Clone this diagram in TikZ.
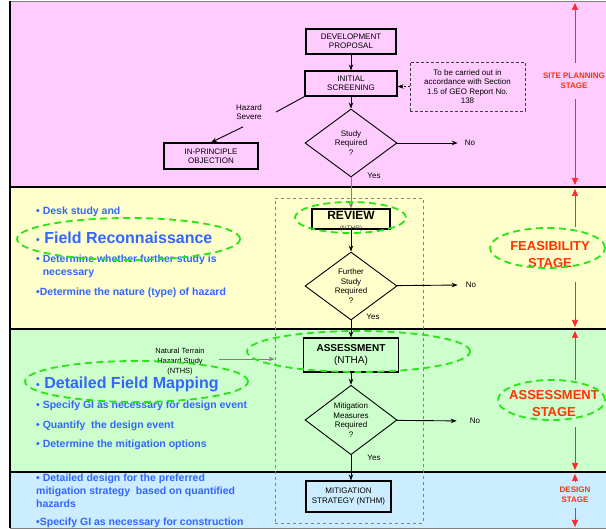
\documentclass[tikz,border=0pt]{standalone}
\usepackage{fontspec}
\setmainfont{Liberation Sans}
\usetikzlibrary{shapes.geometric,arrows.meta}
\definecolor{pinkband}{RGB}{255,204,255}
\definecolor{yellowband}{RGB}{255,255,204}
\definecolor{greenband}{RGB}{204,255,204}
\definecolor{blueband}{RGB}{204,236,255}
\definecolor{pointblue}{RGB}{51,102,255}
\definecolor{stagered}{RGB}{255,51,0}
\definecolor{spanred}{RGB}{255,40,40}
\definecolor{ringgreen}{RGB}{40,230,20}
\newcommand{\fsize}[2]{\fontsize{#1}{#2}\selectfont}

\begin{document}
\begin{tikzpicture}[x=1pt,y=-1pt,
	every node/.style={inner sep=1pt},
	box/.style={draw,line width=1.1pt,align=center,font=\fsize{8}{9.5}},
	query/.style={diamond,draw,line width=0.9pt,minimum width=92,minimum height=68,inner sep=0pt,align=center,font=\fsize{8}{9.5}},
	flow/.style={-{Stealth[length=6pt,width=4.5pt]},line width=0.9pt},
	small/.style={align=center,font=\fsize{8}{9.5}},
	point/.style={anchor=west,align=left,text=pointblue,font=\bfseries\fsize{10.5}{13}},
	bigpoint/.style={point,font=\bfseries\fsize{16}{18}},
	ring/.style={ellipse,draw=ringgreen,line width=1.8pt,dash pattern=on 7pt off 4.5pt,inner sep=0pt},
	stage/.style={text=stagered,align=center,font=\bfseries\fsize{8}{10}},
	bigstage/.style={stage,font=\bfseries\fsize{13}{16.5}},
	span/.style={{Triangle[length=7pt,width=6pt]}-{Triangle[length=7pt,width=6pt]},draw=spanred,fill=spanred,line width=0.7pt}]
\useasboundingbox (0,0) rectangle (606,529);
\fill[pinkband] (10,1) rectangle (606,187);
\fill[yellowband] (10,187) rectangle (606,329);
\fill[greenband] (10,329) rectangle (606,472);
\fill[blueband] (10,472) rectangle (606,528);
\draw[gray,line width=0.8pt] (10,1) -- (606,1);
\draw[gray,line width=0.8pt] (10,528) -- (606,528);
\draw[line width=1.2pt] (10,187) -- (606,187);
\draw[line width=1.2pt] (10,329) -- (606,329);
\draw[line width=1.2pt] (10,472) -- (606,472);
\draw[line width=1.2pt] (10,1) -- (10,528);

\coordinate (siteTop) at (575,3);
\coordinate (siteBottom) at (575,185);
\coordinate (feasTop) at (575,189);
\coordinate (feasBottom) at (575,327);
\coordinate (assessTop) at (575,331);
\coordinate (assessBottom) at (575,470);
\coordinate (designTop) at (575,474);
\coordinate (designBottom) at (575,527);
\draw[span] (siteTop) -- (siteBottom);
\draw[span] (feasTop) -- (feasBottom);
\draw[span] (assessTop) -- (assessBottom);
\draw[span] (designTop) -- (designBottom);
\node[stage,fill=pinkband,minimum height=36] (siteLabel) at (574,81) {SITE PLANNING\\STAGE};
\node[bigstage,fill=yellowband,minimum height=55] (feasLabel) at (550,254.5) {FEASIBILITY\\STAGE};
\node[bigstage,fill=greenband,minimum height=47] (assessLabel) at (554,403.5) {ASSESSMENT\\STAGE};
\node[stage,fill=blueband,minimum height=26] (designLabel) at (575,495) {DESIGN\\STAGE};

\node[draw=gray,dashed,line width=0.8pt,minimum width=148,minimum height=325] (studyframe) at (349,360.5) {};

\node[box,minimum width=90,minimum height=25] (proposal) at (351,41.5) {DEVELOPMENT\\PROPOSAL};
\node[box,minimum width=92,minimum height=25] (screening) at (351,83.5) {INITIAL\\SCREENING};
\node[small,draw=darkgray,line width=0.9pt,dash pattern=on 3pt off 2pt,minimum width=115,minimum height=49] (guide) at (467.5,86.5) {To be carried out in\\accordance with Section\\1.5 of GEO Report No.\\138};
\node[query] (study) at (351,143) {Study\\Required\\?};
\node[small] (hazard) at (249,112) {Hazard\\Severe};
\node[box,minimum width=94,minimum height=26] (objection) at (211,156) {IN-PRINCIPLE\\OBJECTION};
\node[small] (no1) at (470,143) {No};
\node[small] (yes1) at (374,176) {Yes};

\node[box,minimum width=78,minimum height=20,text height=9pt,text depth=7pt,font=\bfseries\fsize{12}{14}] (review) at (351,219) {REVIEW};
\node[small,text=darkgray,font=\fsize{6.5}{7}] (nthr) at ([yshift=1pt]review.south) {(NTHR)};
\node[query] (further) at (351,286) {Further\\Study\\Required\\?};
\node[small] (no2) at (471,285) {No};
\node[small] (yes2) at (373,317) {Yes};

\node[box,minimum width=95,minimum height=34,font=\fsize{10}{12.5}] (assess) at (351,355) {\textbf{ASSESSMENT}\\(NTHA)};
\node[small,font=\fsize{7.5}{10}] (nths) at (180,362) {Natural Terrain\\Hazard Study\\(NTHS)};
\node[query] (measures) at (351,420) {Mitigation\\Measures\\Required\\?};
\node[small] (no3) at (475,421) {No};
\node[small] (yes3) at (374,458) {Yes};
\node[box,minimum width=85,minimum height=31] (strategy) at (348.5,496.5) {MITIGATION\\STRATEGY (NTHM)};

\draw[flow] (proposal) -- (screening);
\draw[flow] (screening) -- (study);
\draw[flow,dash pattern=on 2pt off 1.5pt,line width=0.7pt] (guide.west) -- (guide.west -| screening.east);
\draw[line width=0.9pt] (screening.south west) -- ([xshift=13pt]hazard.east);
\draw[flow] ([xshift=-6pt,yshift=-6pt]hazard.south) -- (objection.north);
\draw[flow,shorten >=6pt] (study) -- (no1.west);
\draw[flow,draw=gray] (study) -- (review);
\draw[flow] (review) -- (further);
\draw[flow,shorten >=7pt] (further) -- (no2.west);
\draw[flow] (further) -- (assess);
\draw[flow,draw=gray,shorten <=13pt] ([yshift=3pt]nths.east) -- ([yshift=3pt]nths.east -| studyframe.west);
\draw[flow] (assess) -- (measures);
\draw[flow,shorten >=12pt] (measures) -- (no3.west);
\draw[flow] (measures.south) -- (measures.south |- strategy.north);

\node[point] (desk) at (35,212) {• Desk study and};
\node[bigpoint] (recon) at (35,238) {{\fsize{10.5}{13}•} Field Reconnaissance};
\node[point] (whether) at (35,266.5) {• Determine whether further study is\\\phantom{• }necessary};
\node[point] (nature) at (35,293) {•Determine the nature (type) of hazard};
\node[bigpoint] (mapping) at (35,384) {{\fsize{10.5}{13}•} Detailed Field Mapping};
\node[point] (specify) at (35,406) {• Specify GI as necessary for design event};
\node[point] (quantify) at (35,426) {• Quantify~ the design event};
\node[point] (options) at (35,445) {• Determine the mitigation options};
\node[point] (preferred) at (35,491) {• Detailed design for the preferred\\mitigation strategy~ based on quantified\\hazards};
\node[point] (construction) at (35,523) {•Specify GI as necessary for construction};

\node[ring,minimum width=223,minimum height=42] (reconring) at (128.5,239) {};
\node[ring,minimum width=223,minimum height=41] (mappingring) at (136.5,381.5) {};
\node[ring,minimum width=111,minimum height=31] (reviewring) at (350.5,217.5) {};
\node[ring,minimum width=223,minimum height=41] (assessring) at (358.5,351.5) {};
\node[ring,minimum width=115,minimum height=40] (feasring) at (547.5,248) {};
\node[ring,minimum width=107,minimum height=40] (stagering) at (551.5,400) {};
\end{tikzpicture}
\end{document}
